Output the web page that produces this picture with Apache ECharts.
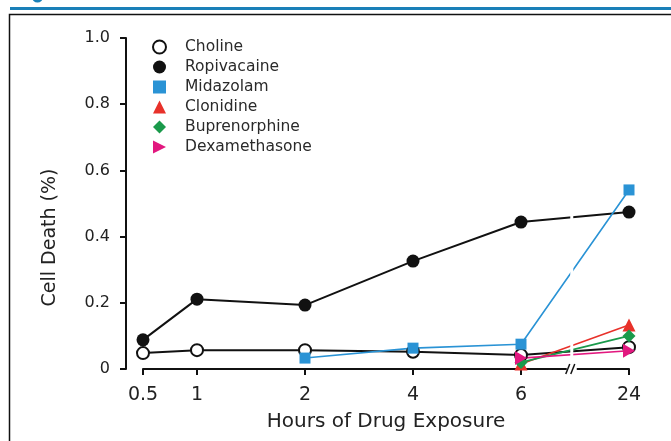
<!DOCTYPE html>
<html><head><meta charset="utf-8">
<script src="https://cdn.jsdelivr.net/npm/echarts@6/dist/echarts.min.js"></script>
<style>html,body{margin:0;padding:0;background:#fff}#c{width:671px;height:441px}</style>
</head><body><div id="c"></div>
<script>
// ---- data ----
const hourLabels = ['0.5', '1', '2', '4', '6', '24'];   // x tick labels (hours)
const xSlots = [0.5, 1, 2, 3, 4, 5];                    // broken-axis scale slot for each hour
const breakSlot = 4.47;                                 // axis break between 6 and 24 h
const choline       = [0.048, 0.057, 0.057, 0.052, 0.042, 0.066];
const ropivacaine   = [0.088, 0.211, 0.193, 0.326, 0.444, 0.474];
const midazolam     = [null, null, 0.033, 0.063, 0.075, 0.541];
const clonidine     = [null, null, null, null, 0.015, 0.133];
const buprenorphine = [null, null, null, null, 0.020, 0.100];
const dexamethasone = [null, null, null, null, 0.033, 0.055];

const FONT = 'DejaVu Sans';
const rightTri = 'path://M0,0L10,5L0,10Z';
const toPts = vals => xSlots.map((x, i) => [x, vals[i]]).filter(p => p[1] != null);

function lineSeries(name, vals, color, symbol, size, fill, width) {
  return {
    name, type: 'line', data: toPts(vals), symbol, symbolSize: size,
    lineStyle: { color, width },
    itemStyle: { color: fill, borderColor: color, borderWidth: fill === '#fff' ? 2 : 0, opacity: 1 },
    emphasis: { disabled: true }
  };
}

const chart = echarts.init(document.getElementById('c'), null, { renderer: 'canvas' });
chart.setOption({
  animation: false,
  backgroundColor: '#fff',
  graphic: [
    { type: 'rect', silent: true, z: -10, shape: { x: 9.5, y: 14.5, width: 700, height: 500 }, style: { fill: 'none', stroke: '#111', lineWidth: 1.5 } },
    { type: 'rect', silent: true, z: -10, shape: { x: 10, y: 7, width: 661, height: 3 }, style: { fill: '#1a80b8' } },
    { type: 'circle', silent: true, z: -10, shape: { cx: 37.5, cy: -3, r: 5.5 }, style: { fill: '#1a80b8' } }
  ],
  grid: { left: 143, right: 42, top: 38, bottom: 72, containLabel: false },
  legend: {
    orient: 'vertical', left: 152, top: 39, padding: 0, itemWidth: 13, itemHeight: 13, itemGap: 4,
    selectedMode: false,
    textStyle: { fontFamily: FONT, fontSize: 15.5, color: '#2a2a2a', padding: [0, 0, 0, 14] },
    data: [
      { name: 'Choline', icon: 'circle' },
      { name: 'Ropivacaine', icon: 'circle' },
      { name: 'Midazolam', icon: 'rect' },
      { name: 'Clonidine', icon: 'triangle' },
      { name: 'Buprenorphine', icon: 'diamond' },
      { name: 'Dexamethasone', icon: rightTri }
    ]
  },
  xAxis: {
    type: 'value', min: 0.5, max: 5,
    axisLine: { show: true, lineStyle: { color: '#111', width: 2 } },
    axisTick: { show: true, customValues: xSlots, length: 6, lineStyle: { color: '#111', width: 2 } },
    axisLabel: { customValues: xSlots, formatter: v => hourLabels[xSlots.indexOf(v)], fontFamily: FONT, fontSize: 19, color: '#222', margin: 17 },
    splitLine: { show: false },
    name: 'Hours of Drug Exposure', nameLocation: 'middle', nameGap: 43,
    nameTextStyle: { fontFamily: FONT, fontSize: 20, color: '#222' }
  },
  yAxis: {
    type: 'value', min: 0, max: 1, interval: 0.2, offset: 17,
    axisLine: { show: true, lineStyle: { color: '#111', width: 2 } },
    axisTick: { show: true, length: 6, lineStyle: { color: '#111', width: 2 } },
    axisLabel: { formatter: v => v === 0 ? '0' : v.toFixed(1), fontFamily: FONT, fontSize: 16, color: '#222', margin: 16 },
    splitLine: { show: false },
    name: 'Cell Death (%)', nameLocation: 'middle', nameGap: 66,
    nameTextStyle: { fontFamily: FONT, fontSize: 19, color: '#222', padding: [0, 68, 0, 0] }
  },
  series: [
    lineSeries('Choline', choline, '#111', 'circle', 12, '#fff', 2),
    lineSeries('Ropivacaine', ropivacaine, '#111', 'circle', 13, '#111', 2),
    lineSeries('Midazolam', midazolam, '#2a93d5', 'rect', 11, '#2a93d5', 1.6),
    lineSeries('Clonidine', clonidine, '#e8312a', 'triangle', 13, '#e8312a', 1.6),
    lineSeries('Buprenorphine', buprenorphine, '#1a9a4b', 'diamond', 13, '#1a9a4b', 1.6),
    lineSeries('Dexamethasone', dexamethasone, '#e2187f', rightTri, [12, 14], '#e2187f', 1.6),
    {
      type: 'custom', z: 10, clip: false, silent: true,
      data: [[breakSlot, 0]],
      renderItem: (params, api) => {
        const top = api.coord([api.value(0), 1]);
        const bot = api.coord([api.value(0), 0]);
        const x = bot[0], yb = bot[1];
        return {
          type: 'group', children: [
            { type: 'rect', shape: { x: x - 1.5, y: top[1], width: 3, height: yb - top[1] - 4 }, style: { fill: '#fff' } },
            { type: 'rect', shape: { x: x - 5, y: yb - 3, width: 10, height: 6 }, style: { fill: '#fff' } },
            { type: 'line', shape: { x1: x - 6, y1: yb + 5, x2: x - 2, y2: yb - 5 }, style: { stroke: '#111', lineWidth: 1.5 } },
            { type: 'line', shape: { x1: x - 1, y1: yb + 5, x2: x + 3, y2: yb - 5 }, style: { stroke: '#111', lineWidth: 1.5 } }
          ]
        };
      }
    }
  ]
});
</script></body></html>
